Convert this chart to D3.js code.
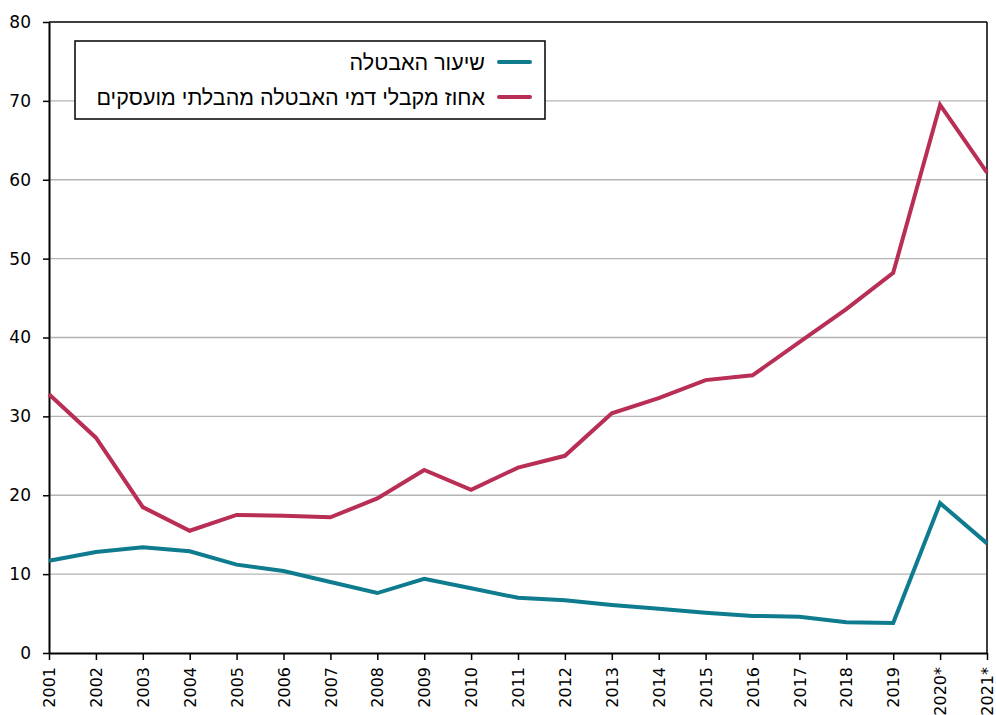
<!DOCTYPE html>
<html><head><meta charset="utf-8">
<script src="https://cdn.jsdelivr.net/npm/d3@7"></script>
<style>body{margin:0;background:#fff}</style>
</head><body>
<script>
const years = ["2001","2002","2003","2004","2005","2006","2007","2008","2009","2010","2011","2012","2013","2014","2015","2016","2017","2018","2019","2020*","2021*"];
const unemploymentRate = [11.7,12.8,13.4,12.9,11.2,10.4,9.0,7.6,9.4,8.2,7.0,6.7,6.1,5.6,5.1,4.7,4.6,3.9,3.8,19.0,13.9];
const nonEmployedShare = [32.8,27.3,18.5,15.5,17.5,17.4,17.2,19.6,23.2,20.7,23.5,25.0,30.4,32.3,34.6,35.2,39.4,43.6,48.2,69.5,60.9];
const yTicks = [0,10,20,30,40,50,60,70,80];
const seriesNames = ["שיעור האבטלה","אחוז מקבלי דמי האבטלה מהבלתי מועסקים"];
const colors = ["#0f7b8f","#b82e55"];

const W=996,H=715, L=49, R=987, T=22, B=653;
const svg=d3.select("body").append("svg").attr("width",W).attr("height",H);
const x=d3.scalePoint().domain(years).range([L,R]);
const y=d3.scaleLinear().domain([0,80]).range([B,T]);

svg.append("g").selectAll("line").data(yTicks.filter(d=>d>0&&d<80)).join("line")
  .attr("x1",L).attr("x2",R).attr("y1",d=>y(d)).attr("y2",d=>y(d))
  .attr("stroke","#b4b4b4").attr("stroke-width",1.3);
svg.append("line").attr("x1",L).attr("x2",R).attr("y1",T).attr("y2",T).attr("stroke","#000").attr("stroke-width",1.5);
svg.append("line").attr("x1",R).attr("x2",R).attr("y1",T).attr("y2",B).attr("stroke","#000").attr("stroke-width",1.5);

const yAxis=svg.append("g").attr("transform",`translate(${L},0)`)
  .call(d3.axisLeft(y).tickValues(yTicks).tickSize(6).tickPadding(12).tickSizeOuter(0));
yAxis.select(".domain").attr("stroke-width",2);
yAxis.selectAll("line").attr("stroke-width",1.5);
yAxis.selectAll("text").style("font-family","DejaVu Sans").style("font-size","17px").attr("fill","#000");

const xAxis=svg.append("g").attr("transform",`translate(0,${B})`)
  .call(d3.axisBottom(x).tickSize(7).tickSizeOuter(0));
xAxis.select(".domain").attr("stroke-width",2);
xAxis.selectAll("line").attr("stroke-width",1.5);
xAxis.selectAll("text").style("font-family","DejaVu Sans").style("font-size","16px").attr("fill","#000")
  .attr("transform","rotate(-90)").attr("text-anchor","end").attr("x",-14).attr("y",0).attr("dy","0.35em");

const line=d3.line().x((d,i)=>x(years[i])).y(d=>y(d));
[unemploymentRate,nonEmployedShare].forEach((s,k)=>{
  svg.append("path").datum(s).attr("d",line).attr("fill","none")
    .attr("stroke",colors[k]).attr("stroke-width",4).attr("stroke-linejoin","miter");
});

const lg=svg.append("g");
lg.append("rect").attr("x",75).attr("y",41).attr("width",470).attr("height",78)
  .attr("fill","#fff").attr("stroke","#000").attr("stroke-width",1.5);
seriesNames.forEach((n,k)=>{
  const yy=62+k*35;
  lg.append("line").attr("x1",499).attr("x2",530).attr("y1",yy).attr("y2",yy)
    .attr("stroke",colors[k]).attr("stroke-width",4).attr("stroke-linecap","round");
  lg.append("text").attr("x",485).attr("y",yy).attr("dy","0.35em").attr("text-anchor","start")
    .attr("direction","rtl").style("font-family","Liberation Sans").style("font-size","21.5px").text(n);
});
</script>
</body></html>
